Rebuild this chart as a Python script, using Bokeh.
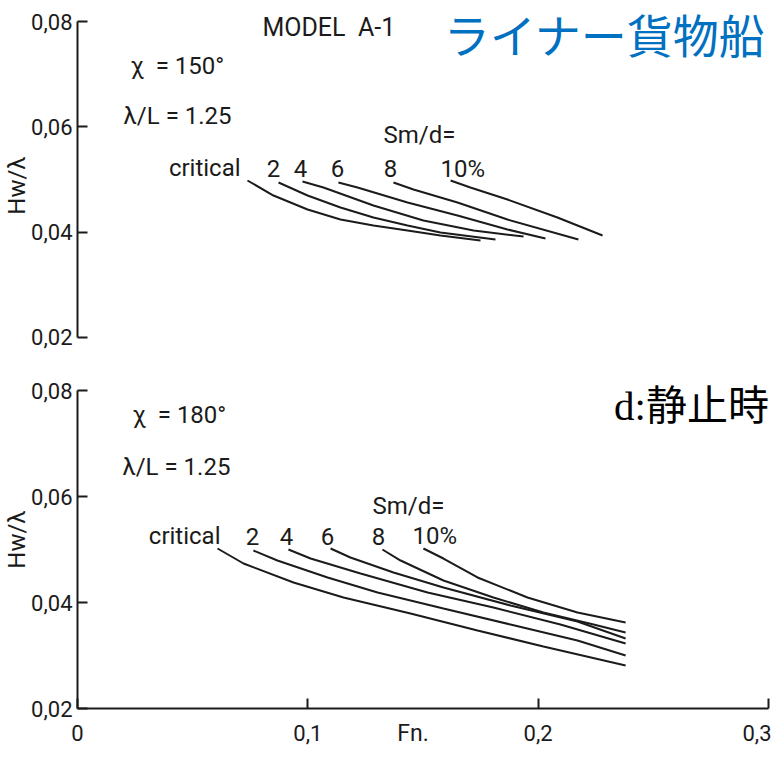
from bokeh.plotting import figure
from bokeh.layouts import column
from bokeh.models import Range1d, FixedTicker, CustomJSTickFormatter, Label
from bokeh.embed import file_html
from bokeh.resources import INLINE

# ---------------- data ----------------
series_names = ["critical", "2", "4", "6", "8", "10%"]

# Upper panel: chi = 150 deg, lambda/L = 1.25
top_crit_fn = [0.0738, 0.0851, 0.0999, 0.1142, 0.1285, 0.1433, 0.1576, 0.1750]
top_crit_hw = [0.04980, 0.04695, 0.04429, 0.04239, 0.04125, 0.04030, 0.03935, 0.03840]
top_2_fn = [0.0873, 0.0999, 0.1142, 0.1285, 0.1433, 0.1576, 0.1815]
top_2_hw = [0.04942, 0.04695, 0.04467, 0.04277, 0.04125, 0.03992, 0.03860]
top_4_fn = [0.0977, 0.1068, 0.1285, 0.1502, 0.1720, 0.1937]
top_4_hw = [0.04961, 0.04847, 0.04505, 0.04220, 0.04030, 0.03916]
top_6_fn = [0.1133, 0.1216, 0.1433, 0.1650, 0.1867, 0.2032]
top_6_hw = [0.04942, 0.04847, 0.04562, 0.04315, 0.04049, 0.03878]
top_8_fn = [0.1372, 0.1459, 0.1650, 0.1867, 0.2175]
top_8_hw = [0.04942, 0.04809, 0.04562, 0.04239, 0.03859]
top_10_fn = [0.1620, 0.1706, 0.1867, 0.2084, 0.2280]
top_10_hw = [0.04980, 0.04847, 0.04619, 0.04277, 0.03935]

# Lower panel: chi = 180 deg, lambda/L = 1.25
bot_crit_fn = [0.0608, 0.0721, 0.0938, 0.1155, 0.1446, 0.1737, 0.2023, 0.2380]
bot_crit_hw = [0.05019, 0.04736, 0.04377, 0.04094, 0.03792, 0.03472, 0.03170, 0.02811]
bot_2_fn = [0.0764, 0.0868, 0.1086, 0.1303, 0.1589, 0.1880, 0.2171, 0.2380]
bot_2_hw = [0.04981, 0.04792, 0.04472, 0.04189, 0.03887, 0.03585, 0.03283, 0.03000]
bot_4_fn = [0.0916, 0.1012, 0.1229, 0.1520, 0.1806, 0.2097, 0.2380]
bot_4_hw = [0.05000, 0.04830, 0.04547, 0.04189, 0.03906, 0.03585, 0.03226]
bot_6_fn = [0.1099, 0.1185, 0.1372, 0.1589, 0.1880, 0.2171, 0.2380]
bot_6_hw = [0.05019, 0.04849, 0.04566, 0.04283, 0.03943, 0.03642, 0.03321]
bot_8_fn = [0.1324, 0.1403, 0.1589, 0.1806, 0.2023, 0.2241, 0.2380]
bot_8_hw = [0.05000, 0.04792, 0.04415, 0.04094, 0.03811, 0.03585, 0.03434]
bot_10_fn = [0.1502, 0.1589, 0.1737, 0.1954, 0.2171, 0.2380]
bot_10_hw = [0.05019, 0.04830, 0.04472, 0.04094, 0.03811, 0.03623]

y_ticks = [0.02, 0.04, 0.06, 0.08]
x_ticks = [0.0, 0.1, 0.2, 0.3]

# ---------------- styling ----------------
INK = "#1b1b1b"
FONT = "Roboto"
TXT = "24px"
NB = "\u00a0"


def style_axis(ax):
    ax.major_tick_in = 10
    ax.major_tick_out = 0
    ax.minor_tick_line_color = None
    ax.axis_line_width = 2
    ax.axis_line_color = INK
    ax.major_tick_line_width = 2
    ax.major_tick_line_color = INK
    ax.major_label_text_font = FONT
    ax.major_label_text_font_size = "22px"
    ax.major_label_text_color = INK
    ax.axis_label_text_font = FONT
    ax.axis_label_text_font_style = "normal"
    ax.axis_label_text_color = INK


def make_fig(height, y_start, y_end, bottom_border, with_x):
    p = figure(width=771, height=height, title=None,
               x_range=Range1d(0, 0.30135), y_range=Range1d(y_start, y_end),
               output_backend="svg", toolbar_location=None,
               x_axis_location="below" if with_x else None,
               min_border_left=77, min_border_right=0, min_border_top=0,
               min_border_bottom=bottom_border)
    p.outline_line_color = None
    p.xgrid.visible = False
    p.ygrid.visible = False
    p.background_fill_color = "white"
    p.border_fill_color = "white"
    ax = p.yaxis[0]
    ax.ticker = FixedTicker(ticks=y_ticks)
    ax.bounds = (0.02, 0.08)
    ax.formatter = CustomJSTickFormatter(code="return tick.toFixed(2).replace('.', ',');")
    style_axis(ax)
    ax.major_label_standoff = 5
    ax.axis_label = "Hw/λ"
    ax.axis_label_text_font_size = "24px"
    ax.axis_label_standoff = -3
    return p


def add_text(p, x, y, text, align="left", size=TXT, font=FONT, color=INK):
    p.add_layout(Label(x=x, y=y, text=text, text_align=align, text_baseline="middle",
                       text_font=font, text_font_size=size, text_color=color))


# ---------------- upper panel ----------------
top = make_fig(370, 0.013714, 0.083989, 0, False)
for fx, hy in [(top_crit_fn, top_crit_hw), (top_2_fn, top_2_hw), (top_4_fn, top_4_hw),
               (top_6_fn, top_6_hw), (top_8_fn, top_8_hw), (top_10_fn, top_10_hw)]:
    top.line(fx, hy, line_color=INK, line_width=2)

add_text(top, 0.0803, 0.07895, "MODEL" + NB + NB + "A-1", size="25px")
add_text(top, 0.1590, 0.07791, "ライナー貨物船", size="46px",
         font="Noto Sans CJK JP", color="#0070C0")
add_text(top, 0.0230, 0.07164, "χ" + NB + NB + "= 150°")
add_text(top, 0.0200, 0.06196, "λ/L = 1.25")
add_text(top, 0.1329, 0.05835, "Sm/d=")
add_text(top, 0.0708, 0.05210, series_names[0], align="right")
for xx, name in zip([0.0851, 0.0968, 0.1129, 0.1359], series_names[1:5]):
    add_text(top, xx, 0.05200, name, align="center")
add_text(top, 0.1576, 0.05200, series_names[5])

# ---------------- lower panel ----------------
bot = make_fig(380, 0.02, 0.083774, 42, True)
xa = bot.xaxis[0]
xa.ticker = FixedTicker(ticks=x_ticks)
xa.bounds = (0.0, 0.3)
xa.formatter = CustomJSTickFormatter(
    code="return tick == 0 ? '0' : tick.toFixed(1).replace('.', ',');")
style_axis(xa)
xa.major_label_standoff = 16
xa.axis_label = "Fn." + NB * 4
xa.axis_label_text_font_size = "23px"
xa.axis_label_standoff = -24

for fx, hy in [(bot_crit_fn, bot_crit_hw), (bot_2_fn, bot_2_hw), (bot_4_fn, bot_4_hw),
               (bot_6_fn, bot_6_hw), (bot_8_fn, bot_8_hw), (bot_10_fn, bot_10_hw)]:
    bot.line(fx, hy, line_color=INK, line_width=2)

add_text(bot, 0.0239, 0.07547, "χ" + NB + NB + "= 180°")
add_text(bot, 0.0195, 0.06566, "λ/L = 1.25")
add_text(bot, 0.1281, 0.05830, "Sm/d=")
add_text(bot, 0.0621, 0.05264, series_names[0], align="right")
for xx, name in zip([0.0760, 0.0908, 0.1086, 0.1307], series_names[1:5]):
    add_text(bot, xx, 0.05250, name, align="center")
add_text(bot, 0.1455, 0.05250, series_names[5])
add_text(bot, 0.2330, 0.07717, "d:静止時", size="41px",
         font="Liberation Serif, Noto Sans CJK JP", color="#000000")

layout = column(top, bot, spacing=0)
open("out.html", "w").write(file_html(layout, INLINE))
